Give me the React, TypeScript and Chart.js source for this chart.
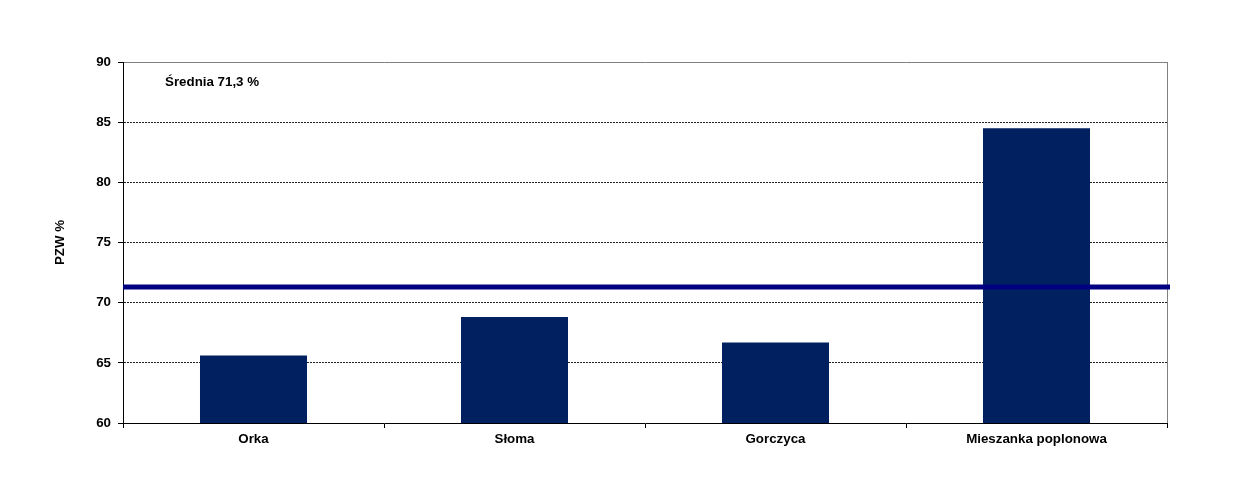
import React, { useEffect, useRef } from "react";
import { Chart, registerables } from "chart.js";

Chart.register(...registerables);

const categories = ["Orka", "Słoma", "Gorczyca", "Mieszanka poplonowa"];
const pzwValues = [65.6, 68.8, 66.7, 84.5];
const meanValue = 71.3;
const meanLabel = "Średnia 71,3 %";
const yTicks = [60, 65, 70, 75, 80, 85, 90];

const FONT = "'Liberation Sans', Arial, sans-serif";
const FS = 13.33;

export default function App() {
  const ref = useRef<HTMLCanvasElement | null>(null);

  useEffect(() => {
    const canvas = ref.current;
    if (!canvas) return;
    const decor = {
      id: "decor",
      afterDatasetsDraw(chart: any) {
        const { ctx, chartArea, scales } = chart;
        ctx.save();
        // right border
        ctx.strokeStyle = "#808080";
        ctx.lineWidth = 1;
        ctx.beginPath();
        ctx.moveTo(Math.round(chartArea.right) + 0.5, chartArea.top);
        ctx.lineTo(Math.round(chartArea.right) + 0.5, chartArea.bottom);
        ctx.stroke();
        // mean line through the y scale
        const yPix = scales.y.getPixelForValue(meanValue);
        ctx.strokeStyle = "#000080";
        ctx.lineWidth = 5;
        ctx.beginPath();
        ctx.moveTo(chartArea.left, yPix);
        ctx.lineTo(chartArea.right + 3, yPix);
        ctx.stroke();
        // label
        ctx.fillStyle = "#000";
        ctx.font = `bold ${FS}px ${FONT}`;
        ctx.textBaseline = "middle";
        ctx.textAlign = "left";
        ctx.fillText(meanLabel, chartArea.left + 42, chartArea.top + 20);
        ctx.restore();
      },
    };
    const chart = new Chart(canvas, {
      type: "bar",
      data: {
        labels: categories,
        datasets: [
          {
            data: pzwValues,
            backgroundColor: "#002060",
            barPercentage: 0.41,
            categoryPercentage: 1,
            grouped: false,
          },
        ],
      },
      plugins: [decor],
      options: {
        animation: false,
        responsive: false,
        devicePixelRatio: 1,
        layout: { padding: { top: 62, right: 70, left: 0, bottom: 0 } },
        plugins: { legend: { display: false }, tooltip: { enabled: false } },
        scales: {
          x: {
            type: "category",
            grid: {
              offset: true,
              drawOnChartArea: false,
              color: "#000",
              tickLength: 5,
            },
            border: { color: "#000", width: 1 },
            ticks: {
              color: "#000",
              font: { family: FONT, size: FS, weight: "bold" },
              padding: 3,
              maxRotation: 0,
            },
            afterFit(scale: any) {
              scale.height = 64;
            },
          },
          y: {
            min: 60,
            max: 90,
            afterBuildTicks(scale: any) {
              scale.ticks = yTicks.map((v) => ({ value: v }));
            },
            grid: {
              color: (ctx: any) =>
                ctx.tick && ctx.tick.value === 90 ? "#808080" : "#222",
              lineWidth: 1,
              tickBorderDash: [],
              tickColor: "#000",
              tickLength: 5,
            },
            border: {
              color: "#000",
              width: 1,
              dash: (ctx: any) =>
                ctx.tick && ctx.tick.value === 90 ? [] : [2, 1],
            },
            ticks: {
              color: "#000",
              font: { family: FONT, size: FS, weight: "bold" },
              padding: 7,
            },
            title: {
              display: true,
              text: "PZW %",
              color: "#000",
              font: { family: FONT, size: FS, weight: "bold" },
              padding: { top: 52, bottom: 0 },
            },
            afterFit(scale: any) {
              scale.width = 123;
            },
          },
        },
      },
    } as any);
    return () => chart.destroy();
  }, []);

  return (
    <div style={{ position: "absolute", left: 0, top: 0, width: 1237, height: 487, background: "#fff" }}>
      <canvas ref={ref} width={1237} height={487} style={{ width: 1237, height: 487 }} />
    </div>
  );
}
